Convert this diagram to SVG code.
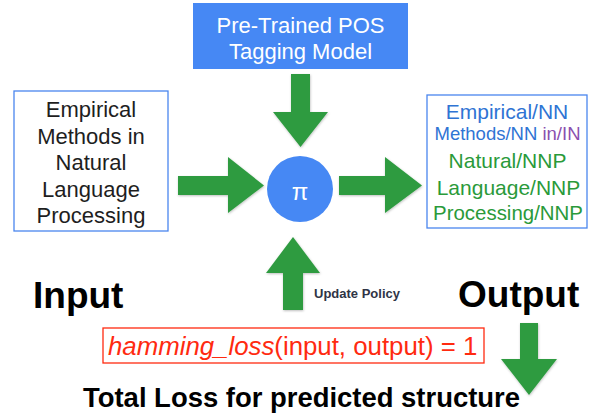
<svg xmlns="http://www.w3.org/2000/svg" width="592" height="414" viewBox="0 0 592 414">
<defs>
<filter id="sh" x="-20%" y="-20%" width="140%" height="140%">
<feDropShadow dx="0.5" dy="1" stdDeviation="1" flood-color="#000" flood-opacity="0.25"/>
</filter>
</defs>
<style>
text{font-family:"Liberation Sans",Arial,Helvetica,sans-serif}
.arrow{fill:#2f9b41;filter:url(#sh)}
.box{fill:#fff;stroke:#4a86ee;stroke-width:1.3}
.in{font-size:22px;fill:#1e1e1e;text-anchor:middle}
.out{font-size:21px;text-anchor:middle}
.blue{fill:#2f74d4}
.purple{fill:#8a4fae}
.green{fill:#2a9a3a}
.big{font-size:37px;font-weight:bold;fill:#000}
</style>
<rect width="592" height="414" fill="#fff"/>
<g id="connectors">
<polygon class="arrow" points="291,74 310,74 310,112 328,112 300.5,147 273,112 291,112"/>
<polygon class="arrow" points="178,176 228,176 228,157 264,185.5 228,213 228,195 178,195"/>
<polygon class="arrow" points="339,176 385,176 385,157 422,185.5 385,213 385,195 339,195"/>
<polygon class="arrow" points="283,310 283,273 266,273 293,237 320,273 303,273 303,310"/>
<polygon class="arrow" points="520,323 538,323 538,359 557,359 529,395 501,359 520,359"/>
</g>
<g id="pretrained-model">
<rect x="193" y="3" width="215" height="66" fill="#4688f4"/>
<text x="300.5" y="33" font-size="22" fill="#fff" text-anchor="middle">Pre-Trained POS</text>
<text x="300.5" y="59" font-size="22" fill="#fff" text-anchor="middle">Tagging Model</text>
</g>
<g id="input-box">
<rect class="box" x="14" y="91" width="154" height="140"/>
<text class="in" x="91" y="117">Empirical</text>
<text class="in" x="91" y="143.5">Methods in</text>
<text class="in" x="91" y="170">Natural</text>
<text class="in" x="91" y="196.5">Language</text>
<text class="in" x="91" y="223">Processing</text>
</g>
<g id="policy">
<circle cx="300" cy="189" r="33" fill="#4688f4"/>
<text x="300" y="200" font-size="24" fill="#fff" text-anchor="middle">π</text>
</g>
<g id="output-box">
<rect class="box" x="427" y="95" width="160" height="133"/>
<text class="out blue" x="507" y="119">Empirical/NN</text>
<text class="out" x="507.5" y="140" font-size="18.5" style="font-size:18.5px"><tspan class="blue">Methods/NN </tspan><tspan class="purple">in/IN</tspan></text>
<text class="out green" x="507.5" y="168">Natural/NNP</text>
<text class="out green" x="508.5" y="195">Language/NNP</text>
<text class="out green" x="508" y="220" textLength="150" lengthAdjust="spacingAndGlyphs">Processing/NNP</text>
</g>
<g id="input-label">
<text class="big" x="33" y="308">Input</text>
</g>
<g id="output-label">
<text class="big" x="458" y="307">Output</text>
</g>
<g id="update-policy-label">
<text x="314" y="298" font-size="13" font-weight="bold" fill="#2f3445">Update Policy</text>
</g>
<g id="loss">
<rect x="103" y="328" width="381" height="35" fill="none" stroke="#ff2a10" stroke-width="1.3"/>
<text x="108" y="355" font-size="25.8" fill="#ff2a10"><tspan font-style="italic">hamming_loss</tspan>(input, output) = 1</text>
</g>
<g id="total-loss">
<text x="83" y="407" font-size="27" font-weight="bold" fill="#000" textLength="437" lengthAdjust="spacingAndGlyphs">Total Loss for predicted structure</text>
</g>
</svg>
